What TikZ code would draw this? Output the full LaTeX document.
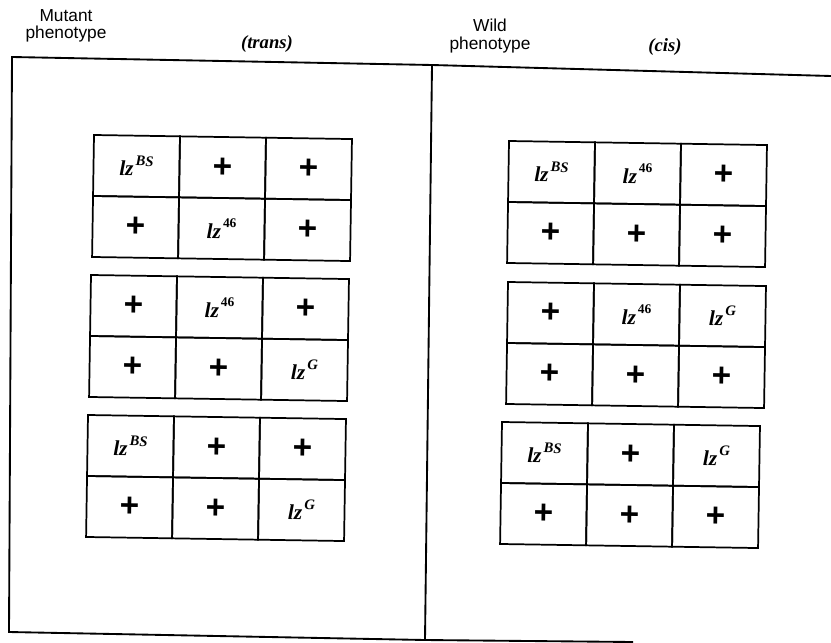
\documentclass[tikz,border=0pt]{standalone}
\usepackage{fontspec}
\setmainfont{Liberation Serif}
\newfontfamily\hdrfont{Liberation Sans}
\newcommand{\lzs}[1]{{\fontsize{16}{16}\selectfont\bfseries\itshape lz\kern1.5pt\raisebox{1.05ex}{\fontsize{11}{11}\selectfont #1}}}
\newcommand{\lzn}[1]{{\fontsize{16}{16}\selectfont\bfseries\itshape lz\kern1.5pt\raisebox{1.1ex}{\upshape\fontsize{10}{10}\selectfont #1}}}
\newcommand{\pl}{{\hdrfont\fontsize{25}{25}\selectfont\bfseries +}}
\newcommand{\lzgrid}[4]{%
  \begin{scope}[shift={#2},rotate=#3,transform shape]
    \foreach \lab [count=\i from 0] in {#4} {
      \pgfmathtruncatemacro\rr{int(\i/3)}
      \pgfmathtruncatemacro\cc{mod(\i,3)}
      \node[cell] (#1-\rr-\cc) at (\cc*86+43, \rr*61+30.5) {\lab};
    }
  \end{scope}}
\begin{document}
\begin{tikzpicture}[x=0.75pt,y=-0.75pt,
  cell/.style={draw,line width=1.3pt,minimum width=64.5pt,minimum height=45.75pt,inner sep=0pt,outer sep=0pt,anchor=center},
  frame/.style={line width=1.4pt,line join=miter},
  hdr/.style={font=\hdrfont\fontsize{13}{13}\selectfont,align=center,inner sep=0pt},
  sub/.style={font=\fontsize{14}{14}\selectfont\bfseries\itshape,inner sep=0pt}]
\useasboundingbox (0,0) rectangle (831,642);
% frame
\coordinate (tl) at (12,57);
\coordinate (tm) at (432,65);
\coordinate (tr) at (831,76);
\coordinate (bl) at (9,632);
\coordinate (bm) at (425,640);
\coordinate (br) at (633,642);
\draw[frame] (tr) -- (tm) -- (tl) -- (bl) -- (bm) -- (br);
\draw[frame] (tm) -- (bm);
% headers
\node[hdr] (mut) at (66,26) {Mutant\\phenotype};
\node[sub] (trans) at (267,44) {(trans)};
\node[hdr] (wild) at (490,36) {Wild\\phenotype};
\node[sub] (cis) at (665,47) {(cis)};
% grids
\lzgrid{a}{(94,135)}{-0.9}{\lzs{BS},\pl,\pl,\pl,\lzn{46},\pl}
\lzgrid{b}{(91,275)}{-0.9}{\pl,\lzn{46},\pl,\pl,\pl,\lzs{G}}
\lzgrid{c}{(88,415)}{-0.9}{\lzs{BS},\pl,\pl,\pl,\pl,\lzs{G}}
\lzgrid{d}{(509,141)}{-0.9}{\lzs{BS},\lzn{46},\pl,\pl,\pl,\pl}
\lzgrid{e}{(508,282)}{-0.9}{\pl,\lzn{46},\lzs{G},\pl,\pl,\pl}
\lzgrid{f}{(502,422)}{-0.9}{\lzs{BS},\pl,\lzs{G},\pl,\pl,\pl}
\end{tikzpicture}
\end{document}
